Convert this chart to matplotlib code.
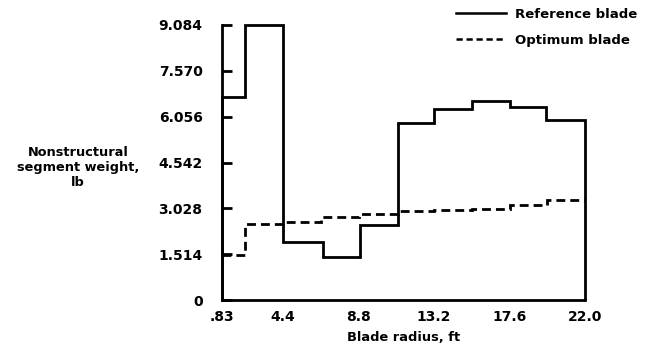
import numpy as np
import matplotlib
matplotlib.use('Agg')
import matplotlib.pyplot as plt

# segment edges along the blade (ft) and segment weights (lb)
ref_edges = [0.83, 2.2, 4.4, 6.7, 8.9, 11.1, 13.2, 15.4, 17.6, 19.7, 22.0]
ref_weight = [6.70, 9.084, 1.93, 1.42, 2.47, 5.84, 6.30, 6.56, 6.39, 5.96]

opt_edges = [0.83, 2.2, 4.4, 6.6, 8.8, 11.1, 13.2, 15.4, 17.6, 19.8, 22.0]
opt_weight = [1.48, 2.51, 2.58, 2.73, 2.83, 2.93, 2.96, 3.02, 3.14, 3.29]

x_ticks = [0.83, 4.4, 8.8, 13.2, 17.6, 22.0]
x_tick_labels = ['.83', '4.4', '8.8', '13.2', '17.6', '22.0']
y_ticks = [0, 1.514, 3.028, 4.542, 6.056, 7.570, 9.084]
y_tick_labels = ['0', '1.514', '3.028', '4.542', '6.056', '7.570', '9.084']

plt.rcParams['font.family'] = ['DejaVu Sans']
plt.rcParams['font.weight'] = 'bold'

fig = plt.figure(figsize=(6.55, 3.55), dpi=100)
ax = fig.add_axes([222/655, 1 - 300/355, (585 - 222)/655, (300 - 25)/355])

ax.stairs(ref_weight, ref_edges, baseline=0, color='black', lw=2.0,
          label='Reference blade', clip_on=False)
ax.stairs(opt_weight, opt_edges, baseline=None, color='black', lw=2.0,
          linestyle=(0, (3.2, 1.8)), label='Optimum blade', clip_on=False)

ax.set_xlim(0.83, 22.0)
ax.set_ylim(0, 9.084)
ax.set_xticks(x_ticks)
ax.set_xticklabels(x_tick_labels)
ax.set_yticks(y_ticks)
ax.set_yticklabels(y_tick_labels)

for s in ['top', 'right']:
    ax.spines[s].set_visible(False)
for s in ['left', 'bottom']:
    ax.spines[s].set_linewidth(2.0)

ax.tick_params(axis='y', direction='in', length=7, width=2, pad=14, labelsize=10)
ax.tick_params(axis='x', length=0, pad=7, labelsize=10)

ax.set_xlabel('Blade radius, ft', fontsize=9.4, fontweight='bold', labelpad=5)
fig.text(78/655, 1 - 168/355, 'Nonstructural\nsegment weight,\nlb',
         ha='center', va='center', multialignment='center',
         fontsize=9.3, fontweight='bold', linespacing=1.2)

ax.legend(loc='upper left', bbox_to_anchor=(456/655, 1 - 8/355),
          bbox_transform=fig.transFigure, frameon=False, borderpad=0,
          borderaxespad=0, handlelength=3.8, handletextpad=0.7,
          labelspacing=0.95, fontsize=9.5,
          handles=[plt.Line2D([], [], color='black', lw=1.8),
                   plt.Line2D([], [], color='black', lw=1.8, linestyle=(0, (2.5, 1.5)))],
          labels=['Reference blade', 'Optimum blade'])

fig.savefig('out.png', dpi=100)
